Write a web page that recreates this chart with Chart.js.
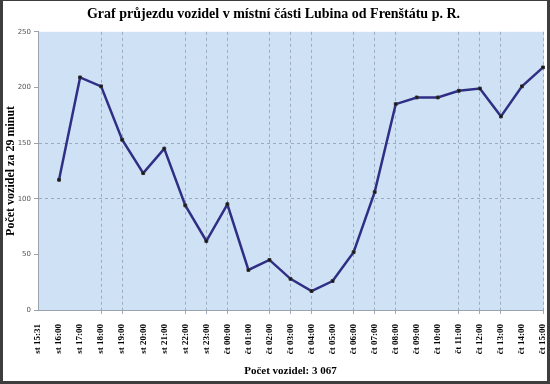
<!DOCTYPE html>
<html>
<head>
<meta charset="utf-8">
<script src="https://cdn.jsdelivr.net/npm/chart.js@4/dist/chart.umd.min.js"></script>
<style>
  html, body { margin: 0; padding: 0; background: #fff; }
  #wrap { width: 550px; height: 384px; position: relative; }
</style>
</head>
<body>
<div id="wrap"><canvas id="traffic-chart" width="550" height="384"></canvas></div>
<script>
const canvasElement = document.getElementById("traffic-chart");

// time labels along the x axis (first one has no count)
const timeLabels = ["st 15:31", "st 16:00", "st 17:00", "st 18:00", "st 19:00", "st 20:00", "st 21:00",
    "st 22:00", "st 23:00", "čt 00:00", "čt 01:00", "čt 02:00", "čt 03:00", "čt 04:00", "čt 05:00",
    "čt 06:00", "čt 07:00", "čt 08:00", "čt 09:00", "čt 10:00", "čt 11:00", "čt 12:00", "čt 13:00",
    "čt 14:00", "čt 15:00"];
// vehicles counted in each interval
const vehicleCounts = [null, 117, 209, 201, 153, 123, 145, 94, 62, 95, 36, 45, 28, 17, 26, 52, 106,
    185, 191, 191, 197, 199, 174, 201, 218];
// which labels get a vertical grid line (as in the original sheet)
const gridLabels = ["st 18:00", "st 19:00", "st 22:00", "st 23:00", "čt 00:00", "čt 02:00", "čt 03:00",
    "čt 04:00", "čt 06:00", "čt 07:00", "čt 08:00", "čt 11:00", "čt 12:00", "čt 13:00", "čt 15:00"];
const yGridValues = [100, 150];
const totalText = "Počet vozidel: 3 067";

const serif = "'Liberation Serif', 'Times New Roman', serif";

// light blue plot area + dark frame around the picture
const framePlugin = {
    id: "frame",
    beforeDraw(chart) {
        const { ctx, chartArea: a } = chart;
        ctx.save();
        ctx.fillStyle = "#fff";
        ctx.fillRect(0, 0, chart.width, chart.height);
        ctx.fillStyle = "#cfe1f4";
        ctx.fillRect(a.left, a.top, a.right - a.left + 1, a.bottom - a.top);
        ctx.restore();
    },
    afterDraw(chart) {
        const ctx = chart.ctx;
        ctx.save();
        ctx.fillStyle = "#3d3d3d";
        ctx.fillRect(0, 0, chart.width, 1);
        ctx.fillRect(0, 0, 3, chart.height);
        ctx.fillRect(chart.width - 3, 0, 3, chart.height);
        ctx.fillRect(0, chart.height - 3, chart.width, 3);
        ctx.restore();
    }
};

const data = {
    labels: timeLabels,
    datasets: [{
        data: vehicleCounts,
        borderColor: "#2f2f85",
        borderWidth: 2.5,
        tension: 0,
        pointStyle: "rect",
        pointRadius: 2,
        pointBackgroundColor: "#111",
        pointBorderColor: "#333",
        pointBorderWidth: 1
    }]
};

const config = {
    type: "line",
    data: data,
    options: {
        responsive: false,
        animation: false,
        layout: { padding: { left: 4, right: 7, top: 0, bottom: 6 } },
        plugins: {
            legend: { display: false },
            tooltip: { enabled: false },
            title: {
                display: true,
                text: "Graf průjezdu vozidel v místní části Lubina od Frenštátu p. R.",
                color: "#000",
                font: { family: serif, size: 14, weight: "bold" },
                padding: { top: 6, bottom: 9 }
            }
        },
        scales: {
            x: {
                type: "category",
                offset: false,
                afterFit: (scale) => {
                    scale.height = 68;
                    scale.paddingLeft = 0;
                    scale.paddingRight = 0;
                },
                grid: {
                    offset: false,
                    color: (c) => gridLabels.includes(timeLabels[c.index]) ? "#9dabbe" : "rgba(0,0,0,0)",
                    tickColor: (c) => gridLabels.includes(timeLabels[c.index]) ? "#9dabbe" : "rgba(0,0,0,0)",
                    tickLength: 4,
                    lineWidth: 1
                },
                border: { color: "#9aa3ad", dash: [3, 3] },
                ticks: {
                    autoSkip: false,
                    minRotation: 90,
                    maxRotation: 90,
                    color: "#000",
                    padding: 10,
                    font: { family: serif, size: 9, weight: "bold" }
                },
                title: {
                    display: true,
                    text: totalText,
                    color: "#000",
                    font: { family: serif, size: 11, weight: "bold" },
                    padding: { top: 0, bottom: 0 }
                }
            },
            y: {
                min: 0,
                max: 250,
                afterFit: (scale) => { scale.width = 34; },
                grid: {
                    color: (c) => yGridValues.includes(c.tick.value) ? "#9dabbe" : "rgba(0,0,0,0)",
                    tickColor: "#9aa3ad",
                    tickLength: 4
                },
                border: { color: "#9aa3ad", dash: [3, 3] },
                ticks: {
                    stepSize: 50,
                    color: "#555",
                    padding: 3,
                    font: { family: "'DejaVu Sans', sans-serif", size: 7 }
                },
                title: {
                    display: true,
                    text: "Počet vozidel za 29 minut",
                    color: "#000",
                    font: { family: serif, size: 12, weight: "bold" },
                    padding: { top: 0, bottom: 3 }
                }
            }
        }
    },
    plugins: [framePlugin]
};

const trafficChart = new Chart(canvasElement, config);
</script>
</body>
</html>
